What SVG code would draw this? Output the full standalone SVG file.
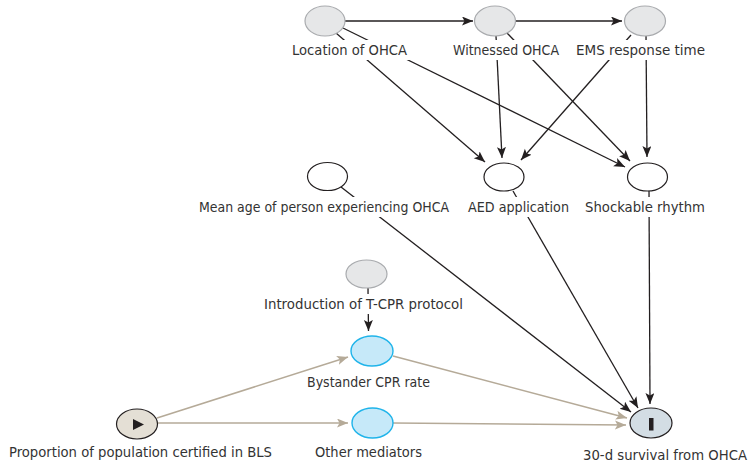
<svg xmlns="http://www.w3.org/2000/svg" width="750" height="467" viewBox="0 0 750 467">
<style>
  .lbl { font-family: "DejaVu Sans Condensed", "Liberation Sans Narrow", "Liberation Sans", sans-serif; font-size: 14.7px; fill: #333333; }
  .bg { fill: #ffffff; }
  .gray { fill: #e6e7e8; stroke: #a9abae; stroke-width: 1.2; }
  .white { fill: #ffffff; stroke: #231f20; stroke-width: 1.2; }
  .blue { fill: #c6e9f9; stroke: #1fb4ea; stroke-width: 1.4; }
  .exp { fill: #e4dfd5; stroke: #231f20; stroke-width: 1.2; }
  .out { fill: #d3dde4; stroke: #231f20; stroke-width: 1.2; }
  .blk { stroke: #231f20; stroke-width: 1.3; fill: none; }
  .tan { stroke: #b5aa98; stroke-width: 1.6; fill: none; }
</style>
<defs>
  <marker id="ab" markerUnits="userSpaceOnUse" markerWidth="12" markerHeight="10" refX="11" refY="4.5" orient="auto">
    <path d="M0,0 L11,4.5 L0,9 L2.5,4.5 Z" fill="#231f20"/>
  </marker>
  <marker id="at" markerUnits="userSpaceOnUse" markerWidth="12" markerHeight="10" refX="11" refY="4.5" orient="auto">
    <path d="M0,0 L11,4.5 L0,9 L2.5,4.5 Z" fill="#b5aa98"/>
  </marker>
</defs>

<g id="connectors">
  <line class="blk" x1="345" y1="21" x2="473" y2="21" marker-end="url(#ab)"/>
  <line class="blk" x1="516" y1="21" x2="622" y2="21" marker-end="url(#ab)"/>
  <line class="blk" x1="336" y1="33" x2="485" y2="162" marker-end="url(#ab)"/>
  <line class="blk" x1="343" y1="28" x2="625" y2="167" marker-end="url(#ab)"/>
  <line class="blk" x1="496" y1="36" x2="502" y2="158" marker-end="url(#ab)"/>
  <line class="blk" x1="507" y1="33" x2="630" y2="161" marker-end="url(#ab)"/>
  <line class="blk" x1="631" y1="35" x2="521" y2="160" marker-end="url(#ab)"/>
  <line class="blk" x1="646" y1="36" x2="647" y2="157" marker-end="url(#ab)"/>
  <line class="blk" x1="341" y1="187" x2="631" y2="412" marker-end="url(#ab)"/>
  <line class="blk" x1="513" y1="191" x2="638" y2="408" marker-end="url(#ab)"/>
  <line class="blk" x1="649" y1="191" x2="650" y2="404" marker-end="url(#ab)"/>
  <line class="blk" x1="368" y1="288" x2="368.5" y2="331" marker-end="url(#ab)"/>
  <line class="tan" x1="157" y1="418" x2="348" y2="357" marker-end="url(#at)"/>
  <line class="tan" x1="158" y1="423" x2="348" y2="423" marker-end="url(#at)"/>
  <line class="tan" x1="393" y1="356" x2="627" y2="418" marker-end="url(#at)"/>
  <line class="tan" x1="393" y1="423" x2="626" y2="425" marker-end="url(#at)"/>
</g>

<g id="n-location">
  <ellipse class="gray" cx="325" cy="21" rx="20" ry="15"/>
  <rect class="bg" x="289" y="40" width="121" height="20"/>
  <text class="lbl" x="292" y="55" textLength="115" lengthAdjust="spacingAndGlyphs">Location of OHCA</text>
</g>
<g id="n-witnessed">
  <ellipse class="gray" cx="495" cy="21" rx="20.5" ry="15"/>
  <rect class="bg" x="450" y="40" width="112" height="20"/>
  <text class="lbl" x="453" y="55" textLength="106" lengthAdjust="spacingAndGlyphs">Witnessed OHCA</text>
</g>
<g id="n-ems">
  <ellipse class="gray" cx="645" cy="21" rx="20.5" ry="15"/>
  <rect class="bg" x="573" y="40" width="135" height="20"/>
  <text class="lbl" x="576" y="55" textLength="129" lengthAdjust="spacingAndGlyphs">EMS response time</text>
</g>
<g id="n-age">
  <ellipse class="white" cx="327.5" cy="176.5" rx="20" ry="14"/>
  <rect class="bg" x="196" y="197" width="256" height="20"/>
  <text class="lbl" x="199" y="212" textLength="250" lengthAdjust="spacingAndGlyphs">Mean age of person experiencing OHCA</text>
</g>
<g id="n-aed">
  <ellipse class="white" cx="504" cy="177" rx="20" ry="14"/>
  <rect class="bg" x="465" y="197" width="107" height="20"/>
  <text class="lbl" x="468" y="212" textLength="101" lengthAdjust="spacingAndGlyphs">AED application</text>
</g>
<g id="n-shock">
  <ellipse class="white" cx="647.5" cy="177" rx="20" ry="14"/>
  <rect class="bg" x="582" y="197" width="126" height="20"/>
  <text class="lbl" x="585" y="212" textLength="120" lengthAdjust="spacingAndGlyphs">Shockable rhythm</text>
</g>
<g id="n-tcpr">
  <ellipse class="gray" cx="366.5" cy="274" rx="20.5" ry="14"/>
  <rect class="bg" x="261" y="294" width="205" height="20"/>
  <text class="lbl" x="264" y="309" textLength="199" lengthAdjust="spacingAndGlyphs">Introduction of T-CPR protocol</text>
</g>
<g id="n-bystander">
  <ellipse class="blue" cx="372" cy="351" rx="21" ry="15"/>
  <text class="lbl" x="307" y="387" textLength="123" lengthAdjust="spacingAndGlyphs">Bystander CPR rate</text>
</g>
<g id="n-bls">
  <ellipse class="exp" cx="137" cy="424" rx="20.5" ry="15"/>
  <polygon points="133,419 144,424.5 133,430" fill="#231f20"/>
  <text class="lbl" x="9" y="457" textLength="263" lengthAdjust="spacingAndGlyphs">Proportion of population certified in BLS</text>
</g>
<g id="n-other">
  <ellipse class="blue" cx="372.5" cy="423" rx="20.5" ry="15"/>
  <text class="lbl" x="315" y="457" textLength="107" lengthAdjust="spacingAndGlyphs">Other mediators</text>
</g>
<g id="n-outcome">
  <ellipse class="out" cx="651" cy="423" rx="21" ry="15"/>
  <rect x="649" y="418" width="4.5" height="12.5" fill="#231f20"/>
  <text class="lbl" x="583" y="460" textLength="164" lengthAdjust="spacingAndGlyphs">30-d survival from OHCA</text>
</g>
</svg>
